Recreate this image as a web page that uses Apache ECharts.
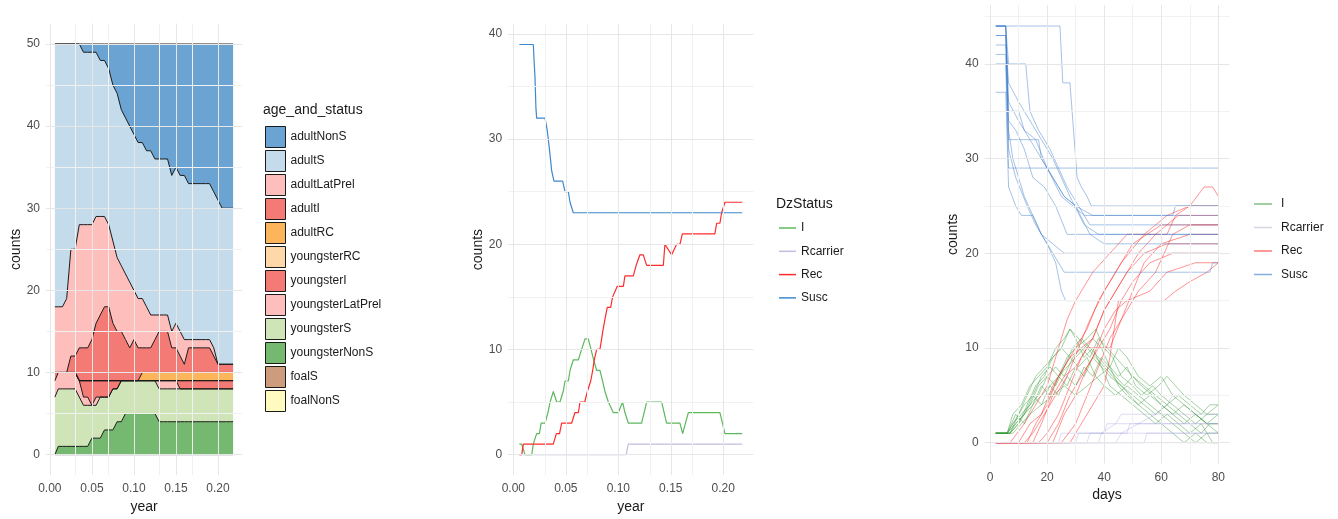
<!DOCTYPE html>
<html><head><meta charset="utf-8">
<script src="https://cdn.jsdelivr.net/npm/echarts@6/dist/echarts.min.js"></script>
<style>html,body{margin:0;padding:0;background:#fff}#c{width:1338px;height:519px}</style>
</head><body><div id="c"></div>
<script>
// ---------- Panel 1: stacked counts by age_and_status ----------
const yearGrid = [0.006,0.010,0.015,0.020,0.025,0.030,0.035,0.040,0.045,0.050,0.055,0.060,0.065,0.070,0.075,0.080,0.085,0.090,0.095,0.100,0.105,0.110,0.115,0.120,0.125,0.130,0.135,0.140,0.145,0.150,0.155,0.160,0.165,0.170,0.175,0.180,0.185,0.190,0.195,0.200,0.205,0.210,0.215,0.218];
const foalNonS         = [0,0,0,0,0,0,0,0,0,0,0,0,0,0,0,0,0,0,0,0,0,0,0,0,0,0,0,0,0,0,0,0,0,0,0,0,0,0,0,0,0,0,0,0];
const foalS            = [0,0,0,0,0,0,0,0,0,0,0,0,0,0,0,0,0,0,0,0,0,0,0,0,0,0,0,0,0,0,0,0,0,0,0,0,0,0,0,0,0,0,0,0];
const youngsterNonS    = [0,1,1,1,1,1,1,1,1,2,2,2,3,3,3,4,4,5,5,5,5,5,5,5,5,4,4,4,4,4,4,4,4,4,4,4,4,4,4,4,4,4,4,4];
const youngsterS       = [7,7,7,7,7,7,6,5,5,4,4,5,4,4,5,4,5,4,4,4,4,4,4,4,4,4,4,4,4,4,4,4,4,4,4,4,4,4,4,4,4,4,4,4];
const youngsterLatPrel = [2,2,2,2,2,2,2,1,1,0,1,0,0,0,0,0,0,0,0,0,0,0,0,0,0,1,1,1,1,1,0,0,0,0,0,0,0,0,0,0,0,0,0,0];
const youngsterI       = [1,0,0,0,0,0,0,2,2,3,2,2,2,2,1,1,0,0,0,0,0,0,0,0,0,0,0,0,0,0,1,1,1,1,1,1,1,1,1,1,1,1,1,1];
const youngsterRC      = [0,0,0,0,0,0,0,0,0,0,0,0,0,0,0,0,0,0,0,0,0,0,0,0,0,0,0,0,0,0,0,0,0,0,0,0,0,0,0,0,0,0,0,0];
const adultRC          = [0,0,0,0,0,0,0,0,0,0,0,0,0,0,0,0,0,0,0,0,0,1,1,1,1,1,1,1,1,1,1,1,1,1,1,1,1,1,1,1,1,1,1,1];
const adultI           = [0,0,0,0,2,2,4,4,4,5,7,8,9,9,7,6,6,5,4,5,4,3,3,3,4,5,5,5,3,3,2,1,3,3,3,3,3,3,2,1,1,1,1,1];
const adultLatPrel     = [8,8,8,9,13,13,15,15,15,14,13,12,11,10,10,9,8,8,8,6,6,6,5,4,3,2,2,2,2,3,3,3,1,1,1,1,1,1,1,0,0,0,0,0];
const adultS           = [32,32,32,31,25,25,22,21,21,21,20,19,19,19,19,20,19,19,19,19,19,19,19,20,19,19,19,19,19,19,19,20,19,19,19,19,19,19,19,20,19,19,19,19];
const adultNonS        = [0,0,0,0,0,0,0,1,1,1,1,2,2,3,5,6,8,9,10,11,12,12,13,13,14,14,14,14,16,15,16,16,17,17,17,17,17,17,18,19,20,20,20,20];
const p1StackOrder = ['foalNonS','foalS','youngsterNonS','youngsterS','youngsterLatPrel','youngsterI','youngsterRC','adultRC','adultI','adultLatPrel','adultS','adultNonS'];
const p1LegendOrder = ['adultNonS','adultS','adultLatPrel','adultI','adultRC','youngsterRC','youngsterI','youngsterLatPrel','youngsterS','youngsterNonS','foalS','foalNonS'];

// ---------- Panel 2: single run by DzStatus ----------
const p2I = [[0.0057,1],[0.0079,1],[0.0111,0],[0.0175,0],[0.019,1],[0.0222,2],[0.0248,2],[0.0265,3],[0.0302,3],[0.033,4],[0.035,5],[0.0381,6],[0.0413,5],[0.0444,5],[0.0475,6],[0.0492,7],[0.0524,7],[0.054,8],[0.0571,9],[0.0619,9],[0.065,10],[0.0683,11],[0.0714,11],[0.074,10],[0.0765,9],[0.0794,8],[0.0825,8],[0.085,7],[0.0873,6],[0.0905,5],[0.0921,5],[0.0952,4],[0.1,4],[0.1041,5],[0.1063,4],[0.1095,3],[0.1222,3],[0.127,5],[0.1413,5],[0.146,3],[0.1587,3],[0.1613,2],[0.1667,4],[0.1968,4],[0.2016,2],[0.218,2]];
const p2Rcarrier = [[0.0057,0],[0.1075,0],[0.1095,1],[0.218,1]];
const p2Rec = [[0.0057,0],[0.008,0],[0.0095,1],[0.038,1],[0.041,2],[0.044,2],[0.046,3],[0.0556,3],[0.0587,4],[0.062,4],[0.0635,5],[0.068,5],[0.0705,6],[0.0724,6],[0.0737,7],[0.0756,8],[0.0771,9],[0.0794,10],[0.0825,10],[0.0841,11],[0.0857,12],[0.0875,13],[0.0895,14],[0.0927,14],[0.0946,15],[0.099,16],[0.1048,16],[0.1063,17],[0.1143,17],[0.117,18],[0.1206,19],[0.1238,19],[0.127,18],[0.1429,18],[0.1444,20],[0.146,20],[0.1508,19],[0.1524,19],[0.1556,20],[0.1587,20],[0.161,21],[0.192,21],[0.1937,22],[0.1968,22],[0.1984,23],[0.2016,24],[0.218,24]];
const p2Susc = [[0.0057,39],[0.019,39],[0.0200,37],[0.0206,36],[0.0215,33],[0.0222,32],[0.0302,32],[0.032,31],[0.0333,30],[0.0355,28],[0.0365,27],[0.0387,26],[0.047,26],[0.0492,25],[0.0524,25],[0.054,24],[0.0571,23],[0.218,23]];

// ---------- Panel 3: many runs over days ----------
const suscRuns = [
 [[2,44],[5.5,44],[6.5,40],[12.5,40],[14,35],[17,33],[21,31],[24,29],[27,27],[29,26],[33,24],[35,23],[80,23]],
 [[2,44],[24.5,44],[25.5,38],[28,38],[29,34],[30.5,28],[32,27],[34,26],[35.5,25],[80,25]],
 [[2,43],[5.5,43],[6.5,35],[10,35],[12,33],[16,32],[20,29],[25,26],[33,24],[80,24]],
 [[2,42],[5.5,42],[6.5,34],[9,33],[12,31],[15,28],[19,27],[23,25],[27,22],[80,22]],
 [[2,41],[5.5,41],[6.5,32],[17,32],[18,30],[22,28],[26,26],[30,25],[35,22],[40,21],[80,21]],
 [[2,40],[5.5,40],[6.5,29],[80,29]],
 [[2,37],[5.5,37],[6.5,27],[9,25],[11,24],[15,24],[18,22],[22,21],[26,20],[80,20]],
 [[2,44],[5.5,44],[6.5,33],[8,30],[12,26],[15,24],[18,22],[22,20],[26,18],[30,18],[77,18],[78,19],[80,19]],
 [[2,44],[5.5,44],[6.5,31],[9,28],[13,25],[16,23],[20,21],[23,19],[25,16],[26.5,15],[80,15]],
 [[2,44],[5.5,44],[6.5,36],[10,34],[14,32],[18,30],[22,28],[26,26],[30,25],[36,24],[64,24],[65,25],[80,25]],
 [[2,43],[5.5,43],[6.5,38],[10,36],[16,33],[22,30],[28,26],[33,23],[38,22],[80,22]]
];
const recRuns = [
 [[2,0],[7,0],[12,2],[16,4],[20,6],[24,10],[27,13],[30,15],[36,18],[42,20],[48,22],[62,22],[65,24],[70,25],[75,27],[78,27],[80,26]],
 [[2,0],[10,0],[14,2],[18,3],[22,6],[26,8],[30,10],[34,12],[38,15],[44,18],[50,21],[60,23],[80,23]],
 [[2,0],[13,0],[16,2],[20,4],[24,7],[28,9],[32,10],[36,11],[40,14],[46,17],[52,20],[58,22],[66,24],[80,24]],
 [[2,0],[15,0],[18,2],[22,5],[26,7],[30,8],[34,10],[42,10],[46,13],[50,16],[54,19],[60,21],[70,22],[80,22]],
 [[2,0],[17,0],[20,1],[24,3],[28,6],[32,9],[36,11],[40,14],[44,16],[48,18],[54,20],[62,21],[80,21]],
 [[2,0],[20,0],[24,2],[28,5],[32,7],[36,9],[40,12],[44,14],[48,15],[56,16],[62,18],[72,19],[80,19]],
 [[2,0],[22,0],[26,3],[30,5],[34,8],[38,10],[42,12],[46,15],[50,17],[56,19],[64,20],[80,20]],
 [[2,0],[25,0],[30,2],[34,5],[38,8],[42,11],[46,13],[52,16],[58,18],[64,22],[70,23],[80,23]],
 [[2,0],[28,0],[32,2],[36,4],[40,6],[42,9],[45,15],[61,15],[65,16],[70,17],[76,18],[80,19]],
 [[2,0],[12,0],[15,1],[19,3],[23,5],[27,7],[31,10],[35,13],[40,16],[46,19],[54,22],[62,24],[70,25],[80,25]]
];
const iRuns = [
 [[2,1],[6,1],[8,3],[11,4],[14,6],[17,7],[20,8],[23,10],[26,11],[28,12],[30,11],[33,9],[36,10],[39,8],[42,7],[46,6],[50,5],[54,4],[58,3],[62,4],[66,3],[70,2],[74,1],[77,2],[80,2]],
 [[2,1],[6,1],[8,2],[12,4],[15,5],[18,7],[21,8],[24,7],[27,9],[30,10],[34,11],[37,12],[40,10],[43,9],[46,7],[50,6],[53,5],[57,6],[60,5],[64,4],[68,3],[72,2],[76,3],[80,4]],
 [[2,1],[7,1],[10,3],[13,5],[16,7],[19,8],[22,9],[25,10],[28,9],[31,8],[34,9],[37,7],[40,6],[44,5],[48,6],[52,5],[56,4],[60,3],[64,2],[68,1],[72,0],[76,1],[80,1]],
 [[2,1],[7,1],[9,2],[12,3],[15,4],[18,5],[21,6],[24,7],[27,8],[30,9],[33,10],[36,11],[39,10],[42,8],[45,7],[48,8],[51,6],[55,5],[59,6],[62,7],[65,6],[68,5],[72,4],[76,3],[80,3]],
 [[2,1],[6,1],[9,3],[12,2],[15,4],[18,6],[21,5],[24,7],[27,6],[30,8],[33,7],[36,9],[39,8],[42,6],[46,5],[50,4],[54,3],[58,2],[62,3],[66,2],[70,1],[74,2],[78,0],[80,0]],
 [[2,1],[7,1],[10,2],[14,4],[17,5],[20,7],[23,6],[26,8],[29,10],[32,11],[35,10],[38,9],[41,8],[44,7],[47,6],[50,7],[54,6],[58,5],[62,4],[66,5],[70,4],[74,3],[77,4],[80,4]],
 [[2,1],[6,1],[8,2],[11,3],[14,4],[17,6],[20,7],[23,8],[26,7],[29,9],[32,10],[35,9],[38,11],[41,10],[44,9],[47,8],[50,7],[53,6],[57,5],[60,4],[64,3],[68,2],[72,3],[76,2],[80,1]],
 [[2,1],[8,1],[11,2],[14,3],[18,4],[22,5],[26,6],[30,5],[34,6],[38,7],[42,8],[45,6],[48,5],[52,4],[56,5],[60,4],[64,3],[68,4],[72,3],[76,2],[80,2]],
 [[2,1],[7,1],[10,2],[13,4],[16,6],[19,7],[22,9],[25,10],[28,12],[31,11],[34,10],[37,9],[40,8],[43,7],[46,6],[49,5],[52,4],[56,3],[60,2],[64,1],[68,0],[72,1],[76,0],[80,0]],
 [[2,1],[6,1],[9,2],[12,3],[15,5],[18,4],[21,6],[24,5],[27,7],[30,6],[33,8],[36,7],[39,9],[42,8],[45,10],[48,9],[52,7],[56,6],[60,7],[64,5],[68,4],[72,3],[76,2],[80,3]]
];
const rcarrierRuns = [
 [[2,0],[80,0]],
 [[2,0],[30,0],[31,1],[80,1]],
 [[2,0],[34,0],[35,1],[40,1],[41,2],[80,2]],
 [[2,0],[24,0],[25,1],[48,1],[49,2],[80,2]],
 [[2,0],[38,0],[39,1],[44,2],[46,3],[80,3]],
 [[2,0],[44,0],[46,1],[52,2],[58,3],[62,4],[64,5],[80,5]],
 [[2,0],[54,0],[55,1],[80,1]]
];

// tick labels
const p1xTicks = [0, 0.05, 0.10, 0.15, 0.20];
const p1yTicks = [0, 10, 20, 30, 40, 50];
const p2xTicks = [0, 0.05, 0.10, 0.15, 0.20];
const p2yTicks = [0, 10, 20, 30, 40];
const p3xTicks = [0, 20, 40, 60, 80];
const p3yTicks = [0, 10, 20, 30, 40];

// ---------- styling ----------
const FONT = 'Liberation Sans, Arial, sans-serif';
const fill1 = {
  adultNonS:'rgba(44,125,191,0.7)', adultS:'rgba(169,204,225,0.7)', adultLatPrel:'rgba(254,162,159,0.7)',
  adultI:'rgba(239,65,58,0.7)', adultRC:'rgba(252,149,22,0.7)', youngsterRC:'rgba(254,200,131,0.7)',
  youngsterI:'rgba(239,65,58,0.7)', youngsterLatPrel:'rgba(254,162,159,0.7)', youngsterS:'rgba(186,218,154,0.7)',
  youngsterNonS:'rgba(58,155,52,0.7)', foalS:'rgba(182,114,68,0.7)', foalNonS:'rgba(255,249,165,0.7)'
};
const values1 = {foalNonS, foalS, youngsterNonS, youngsterS, youngsterLatPrel, youngsterI, youngsterRC, adultRC, adultI, adultLatPrel, adultS, adultNonS};
const col2 = {I:'#5cb85c', Rcarrier:'#bfbfe0', Rec:'#ff2b2b', Susc:'#3f88cc'};
const col3 = {I:'rgba(50,150,50,0.45)', Rcarrier:'rgba(165,160,225,0.38)', Rec:'rgba(255,30,30,0.48)', Susc:'rgba(55,120,200,0.45)'};
const leg3 = {I:'rgba(50,150,50,0.6)', Rcarrier:'rgba(175,175,200,0.5)', Rec:'rgba(255,30,30,0.6)', Susc:'rgba(55,120,200,0.6)'};

function gridLines(xi, xMajor, xMinor, yMajor, yMinor) {
  const d = [];
  const minor = {color:'#f1f1f1', width:1, type:'solid'};
  const major = {color:'#e6e6e6', width:1, type:'solid'};
  xMinor.forEach(v => d.push({xAxis: v, lineStyle:minor}));
  yMinor.forEach(v => d.push({yAxis: v, lineStyle:minor}));
  xMajor.forEach(v => d.push({xAxis: v, lineStyle:major}));
  yMajor.forEach(v => d.push({yAxis: v, lineStyle:major}));
  return {type:'line', xAxisIndex:xi, yAxisIndex:xi, data:[], z:0, silent:true,
    markLine:{silent:true, symbol:['none','none'], label:{show:false}, animation:false, emphasis:{disabled:true},
      lineStyle:{type:'solid'}, data:d}};
}

const axisLabelBase = {color:'#4d4d4d', fontSize:12, fontFamily:FONT};
function xAxisDef(gi, min, max, ticks, fmt, name, gap) {
  return {type:'value', gridIndex:gi, min, max, axisLine:{show:false}, axisTick:{show:false}, splitLine:{show:false},
    axisLabel:Object.assign({customValues:ticks, margin:8, formatter:fmt}, axisLabelBase),
    name, nameLocation:'middle', nameGap:gap, nameTextStyle:{fontSize:14, color:'#1a1a1a', fontFamily:FONT}};
}
function yAxisDef(gi, min, max, ticks, gap) {
  return {type:'value', gridIndex:gi, min, max, axisLine:{show:false}, axisTick:{show:false}, splitLine:{show:false},
    axisLabel:Object.assign({customValues:ticks, margin:6}, axisLabelBase),
    name:'counts', nameLocation:'middle', nameGap:gap, nameTextStyle:{fontSize:14, color:'#1a1a1a', fontFamily:FONT}};
}
const f2 = v => v.toFixed(2);

const series = [];
series.push(gridLines(0, [0,0.05,0.10,0.15,0.20], [0.025,0.075,0.125,0.175,0.225], [0,10,20,30,40,50], [5,15,25,35,45]));
series.push(gridLines(1, [0,0.05,0.10,0.15,0.20], [0.025,0.075,0.125,0.175,0.225], [0,10,20,30,40], [5,15,25,35]));
series.push(gridLines(2, [0,20,40,60,80], [10,30,50,70], [0,10,20,30,40], [5,15,25,35,45]));

// stacked areas: count is put in the first column so that the stack runs on the y (count) dimension
p1StackOrder.forEach(n => {
  series.push({name:n, type:'line', xAxisIndex:0, yAxisIndex:0, stack:'p1', symbol:'none', silent:true, z:3,
    encode:{x:1, y:0},
    data: yearGrid.map((x, i) => [values1[n][i], x]),
    itemStyle:{color:fill1[n]}, lineStyle:{color:'#1a1a1a', width:1}, areaStyle:{color:fill1[n], opacity:1}});
});

const p2 = {I:p2I, Rcarrier:p2Rcarrier, Rec:p2Rec, Susc:p2Susc};
['I','Rcarrier','Rec','Susc'].forEach(n => {
  series.push({name:n, type:'line', xAxisIndex:1, yAxisIndex:1, symbol:'none', silent:true, z:3,
    data:p2[n], lineStyle:{color:col2[n], width:1.2}, itemStyle:{color:col2[n]}});
});

const runs3 = {I:iRuns, Rcarrier:rcarrierRuns, Rec:recRuns, Susc:suscRuns};
['I','Rcarrier','Rec','Susc'].forEach(n => {
  runs3[n].forEach(run => {
    series.push({name:n, type:'line', xAxisIndex:2, yAxisIndex:2, symbol:'none', silent:true, z:3,
      data:run, lineStyle:{color:col3[n], width:1}, itemStyle:{color:col3[n]}});
  });
});

const option = {
  animation:false,
  textStyle:{fontFamily:FONT},
  title:[
    {text:'age_and_status', left:263, top:103, padding:0, textStyle:{fontSize:14, fontWeight:'normal', color:'#1a1a1a', fontFamily:FONT}},
    {text:'DzStatus', left:776, top:197, padding:0, textStyle:{fontSize:14, fontWeight:'normal', color:'#1a1a1a', fontFamily:FONT}}
  ],
  grid:[
    {left:46, top:23.5, width:196, height:456.5},
    {left:508.2, top:24, width:245.1, height:456},
    {left:984.6, top:5.2, width:244.9, height:458.3}
  ],
  xAxis:[
    xAxisDef(0, -0.0046, 0.2286, p1xTicks, f2, 'year', 24),
    xAxisDef(1, -0.0049, 0.2286, p2xTicks, f2, 'year', 22),
    xAxisDef(2, -1.9, 83.9, p3xTicks, v => String(v), 'days', 22)
  ],
  yAxis:[
    yAxisDef(0, -2.5, 52.5, p1yTicks, 22),
    yAxisDef(1, -1.95, 40.95, p2yTicks, 18),
    yAxisDef(2, -2.2, 46.2, p3yTicks, 24)
  ],
  legend:[
    {orient:'vertical', left:265, top:126, padding:0, itemWidth:20, itemHeight:21, itemGap:2, icon:'rect', selectedMode:false,
     textStyle:{fontSize:12, color:'#1a1a1a', fontFamily:FONT},
     data:p1LegendOrder.map(n => ({name:n, itemStyle:{color:fill1[n], borderColor:'#1a1a1a', borderWidth:1}}))},
    {orient:'vertical', left:779, top:221, padding:0, itemWidth:17, itemHeight:1.5, itemGap:9.3, icon:'rect', selectedMode:false,
     textStyle:{fontSize:12, color:'#1a1a1a', fontFamily:FONT, lineHeight:14},
     data:['I','Rcarrier','Rec','Susc'].map(n => ({name:n, itemStyle:{color:col2[n], borderWidth:0}}))},
    {orient:'vertical', left:1254, top:197, padding:0, itemWidth:18, itemHeight:1.5, itemGap:9.5, icon:'rect', selectedMode:false,
     textStyle:{fontSize:12, color:'#1a1a1a', fontFamily:FONT, lineHeight:14, padding:[0,0,0,4]},
     data:['I','Rcarrier','Rec','Susc'].map(n => ({name:n, itemStyle:{color:leg3[n], borderWidth:0}}))}
  ],
  series
};
const chart = echarts.init(document.getElementById('c'), null, {renderer:'canvas'});
chart.setOption(option);
</script>
</body></html>
